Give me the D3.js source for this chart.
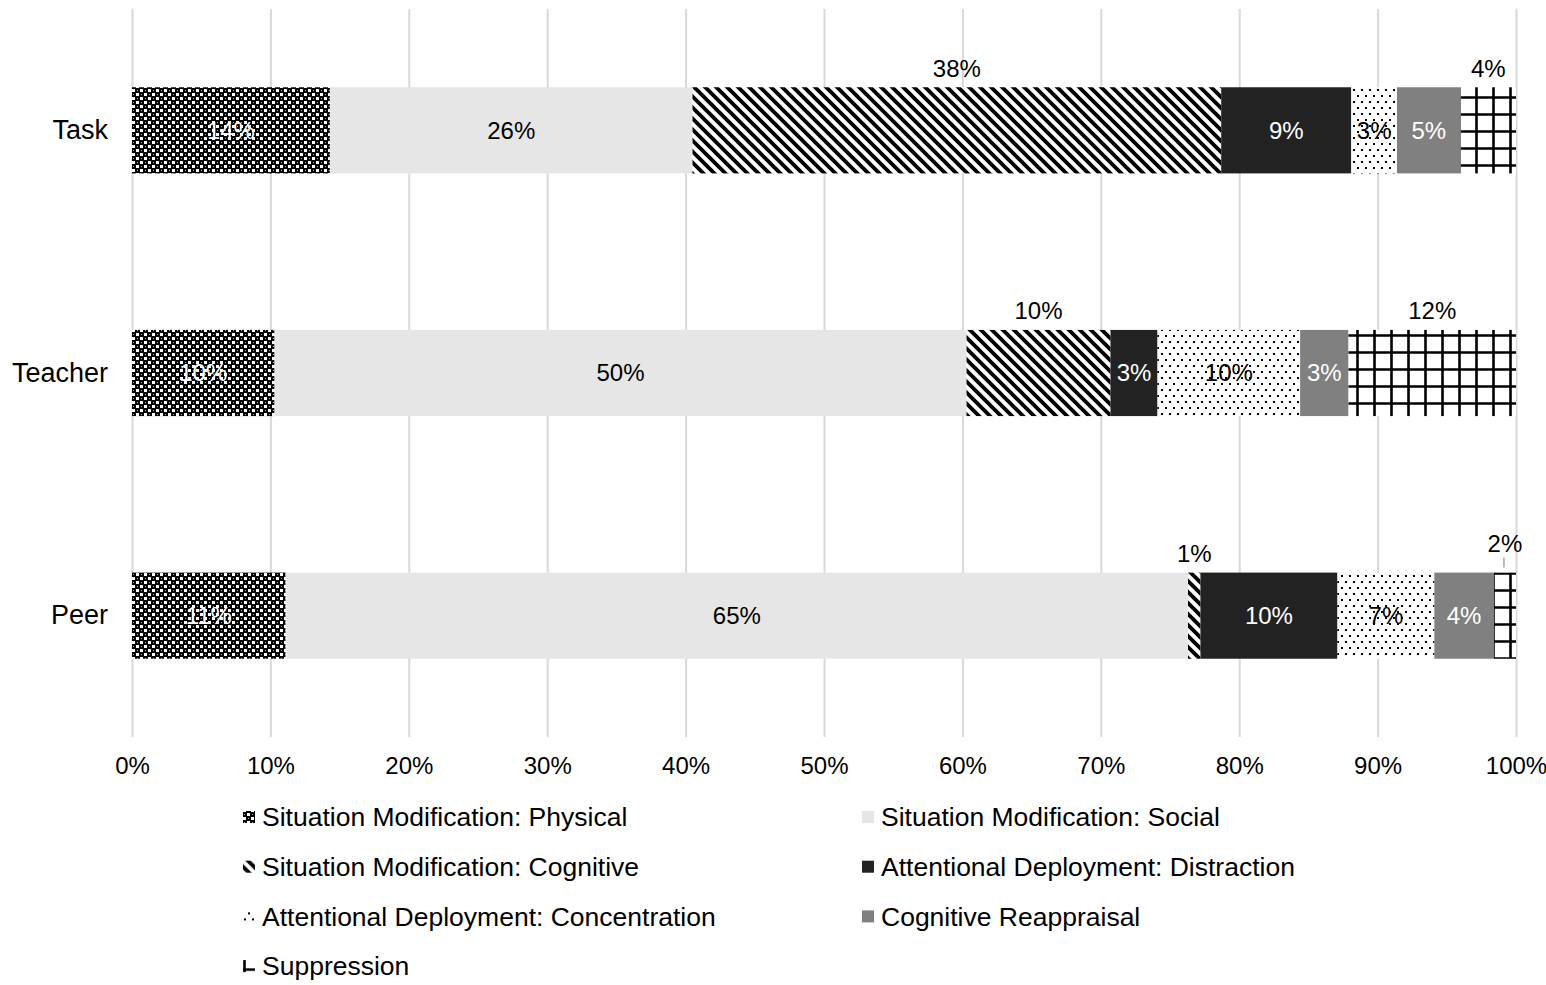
<!DOCTYPE html>
<html>
<head>
<meta charset="utf-8">
<script src="https://cdn.jsdelivr.net/npm/d3@7"></script>
<style>
  body { margin: 0; background: #fff; }
  svg text { font-family: "Liberation Sans", Arial, sans-serif; }
</style>
</head>
<body>
<svg id="chart" width="1546" height="985"></svg>
<script>
// categories, top to bottom
var categories = ["Task", "Teacher", "Peer"];

var seriesNames = [
	"Situation Modification: Physical",
	"Situation Modification: Social",
	"Situation Modification: Cognitive",
	"Attentional Deployment: Distraction",
	"Attentional Deployment: Concentration",
	"Cognitive Reappraisal",
	"Suppression"
];

// shares per category (percent), same order as seriesNames
var physical      = [14.3, 10.3, 11.1];
var social        = [26.2, 50.0, 65.2];
var cognitive     = [38.2, 10.4, 0.9];
var distraction   = [9.4, 3.4, 9.9];
var concentration = [3.3, 10.3, 7.0];
var reappraisal   = [4.6, 3.5, 4.3];
var suppression   = [4.0, 12.1, 1.6];

var labelTexts = [
	["14%", "10%", "11%"],
	["26%", "50%", "65%"],
	["38%", "10%", "1%"],
	["9%", "3%", "10%"],
	["3%", "10%", "7%"],
	["5%", "3%", "4%"],
	["4%", "12%", "2%"]
];

var xTicks = [0, 10, 20, 30, 40, 50, 60, 70, 80, 90, 100];

var seriesValues = [physical, social, cognitive, distraction, concentration, reappraisal, suppression];

var svg = d3.select("#chart"),
	margin = {top: 9, right: 30, bottom: 248, left: 132},
	width = +svg.attr("width") - margin.left - margin.right,
	height = +svg.attr("height") - margin.top - margin.bottom;

// patterns
var defs = svg.append("defs");

var p1 = defs.append("pattern").attr("id", "pat-phys")
	.attr("patternUnits", "userSpaceOnUse").attr("width", 8).attr("height", 8);
p1.append("rect").attr("width", 8).attr("height", 8).attr("fill", "#000");
p1.append("rect").attr("x", 0).attr("y", 0).attr("width", 3).attr("height", 3).attr("fill", "#fff");
p1.append("rect").attr("x", 4).attr("y", 4).attr("width", 3).attr("height", 3).attr("fill", "#fff");
p1.append("rect").attr("x", 5).attr("y", 1).attr("width", 1).attr("height", 1).attr("fill", "#aaa");
p1.append("rect").attr("x", 1).attr("y", 5).attr("width", 1).attr("height", 1).attr("fill", "#aaa");

var p2 = defs.append("pattern").attr("id", "pat-cog")
	.attr("patternUnits", "userSpaceOnUse").attr("width", 11).attr("height", 11);
p2.append("rect").attr("width", 11).attr("height", 11).attr("fill", "#fff");
p2.append("path").attr("d", "M-1,-1L12,12M-6,5L6,17M5,-6L17,6")
	.attr("stroke", "#000").attr("stroke-width", 3.8);

var p3 = defs.append("pattern").attr("id", "pat-conc")
	.attr("patternUnits", "userSpaceOnUse").attr("width", 8).attr("height", 12);
p3.append("rect").attr("width", 8).attr("height", 12).attr("fill", "#fff");
p3.append("rect").attr("x", 1).attr("y", 2).attr("width", 2).attr("height", 2).attr("fill", "#000");
p3.append("rect").attr("x", 5).attr("y", 8).attr("width", 2).attr("height", 2).attr("fill", "#000");

var p4 = defs.append("pattern").attr("id", "pat-supp")
	.attr("patternUnits", "userSpaceOnUse").attr("width", 17).attr("height", 17)
	.attr("x", 0).attr("y", 2);
p4.append("rect").attr("width", 17).attr("height", 17).attr("fill", "#fff");
p4.append("path").attr("d", "M1.5,0V17M0,1.5H17").attr("stroke", "#000").attr("stroke-width", 2.6);

var fills = ["url(#pat-phys)", "#e6e6e6", "url(#pat-cog)", "#222222", "url(#pat-conc)", "#808080", "url(#pat-supp)"];
var textColors = ["#fff", "#000", "#000", "#fff", "#000", "#fff", "#000"];
var outside = [false, false, true, false, false, false, true];

var x = d3.scaleLinear().domain([0, 100]).range([0, width]);
var y = d3.scaleBand().domain(categories).range([0, height]).paddingInner(0.645).paddingOuter(0.3225);

var g = svg.append("g")
	.attr("transform", "translate(" + margin.left + "," + margin.top + ")");

// gridlines
g.append("g")
	.attr("class", "grid")
	.call(d3.axisBottom(x).tickValues(xTicks).tickSize(height).tickFormat(""))
	.call(function(s) {
		s.select(".domain").remove();
		s.selectAll("line").attr("stroke", "#d9d9d9").attr("stroke-width", 2);
	});

// x axis labels
g.append("g")
	.attr("transform", "translate(0," + height + ")")
	.call(d3.axisBottom(x).tickValues(xTicks).tickSize(0).tickPadding(20).tickFormat(function(d) { return d + "%"; }))
	.call(function(s) {
		s.select(".domain").remove();
		s.selectAll("text").attr("font-size", 24).attr("fill", "#000")
			.style("font-family", "Liberation Sans, Arial, sans-serif");
	});

// y axis labels
g.append("g")
	.call(d3.axisLeft(y).tickSize(0).tickPadding(24))
	.call(function(s) {
		s.select(".domain").remove();
		s.selectAll("text").attr("font-size", 27).attr("fill", "#000")
			.style("font-family", "Liberation Sans, Arial, sans-serif");
	});

// stack data
var rows = categories.map(function(c, i) {
	var r = {cat: c};
	seriesNames.forEach(function(s, j) { r[s] = seriesValues[j][i]; });
	return r;
});
var stacked = d3.stack().keys(seriesNames)(rows);

var layer = g.selectAll(".layer")
	.data(stacked)
	.enter().append("g")
	.attr("class", "layer");

layer.selectAll("rect")
	.data(function(d, j) { return d.map(function(p) { return {p: p, j: j}; }); })
	.enter().append("rect")
	.attr("x", function(d) { return x(d.p[0]); })
	.attr("y", function(d) { return y(d.p.data.cat); })
	.attr("width", function(d) { return x(d.p[1]) - x(d.p[0]); })
	.attr("height", y.bandwidth())
	.attr("fill", function(d) { return fills[d.j]; });

// labels
layer.selectAll("text")
	.data(function(d, j) { return d.map(function(p, i) { return {p: p, j: j, i: i}; }); })
	.enter().append("text")
	.attr("text-anchor", "middle")
	.attr("font-size", 24)
	.attr("dy", "0.35em")
	.attr("fill", function(d) { return outside[d.j] ? "#000" : textColors[d.j]; })
	.attr("x", function(d) { return x((d.p[0] + d.p[1]) / 2); })
	.attr("y", function(d) {
		var top = y(d.p.data.cat);
		if (!outside[d.j]) return top + y.bandwidth() / 2;
		if (d.j === 6 && d.i === 2) return top - 29;
		return top - 19;
	})
	.text(function(d) { return labelTexts[d.j][d.i]; });

// leader line for the small 2% label
var pr = stacked[6][2];
g.append("line")
	.attr("x1", x((pr[0] + pr[1]) / 2) - 1).attr("x2", x((pr[0] + pr[1]) / 2) - 1)
	.attr("y1", y(categories[2]) - 15).attr("y2", y(categories[2]) - 5)
	.attr("stroke", "#a6a6a6").attr("stroke-width", 1.5);

// legend
var legendCols = [243, 862], legendTop = 817, legendStep = 49.7;
var legend = svg.append("g").selectAll(".legend")
	.data(seriesNames)
	.enter().append("g")
	.attr("class", "legend")
	.attr("transform", function(d, i) {
		return "translate(" + legendCols[i % 2] + "," + (legendTop + Math.floor(i / 2) * legendStep) + ")";
	});

legend.append("rect")
	.attr("x", 0).attr("y", -6).attr("width", 12).attr("height", 12)
	.attr("fill", function(d, i) { return fills[i]; });

legend.append("text")
	.attr("x", 19).attr("dy", "0.35em")
	.attr("font-size", 26.5)
	.attr("fill", "#000")
	.text(function(d) { return d; });
</script>
</body>
</html>
